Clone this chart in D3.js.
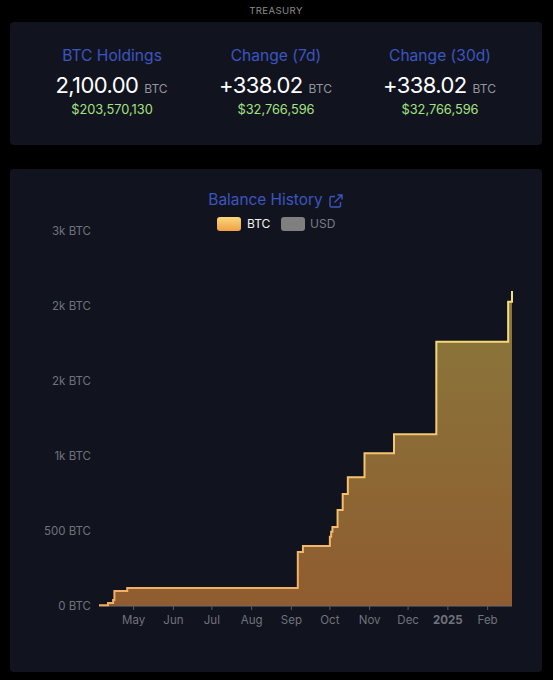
<!DOCTYPE html>
<html>
<head>
<meta charset="utf-8">
<style>
html, body { margin: 0; padding: 0; background: #000; }
svg { display: block; font-family: Inter, "Liberation Sans", sans-serif; }
</style>
</head>
<body>
<script src="https://cdn.jsdelivr.net/npm/d3@7"></script>
<script>
const w = 553
const h = 680

// step dates and balance after each step
const stepDates = ['2024-04-04', '2024-04-11', '2024-04-15', '2024-04-16', '2024-04-26', '2024-09-06', '2024-09-10',
	'2024-10-01', '2024-10-02', '2024-10-03', '2024-10-07', '2024-10-11', '2024-10-15', '2024-10-28',
	'2024-11-20', '2024-12-23', '2025-02-17', '2025-02-20', '2025-02-20']
const balances = [5, 20, 40, 100, 120, 360, 400, 462, 495, 527, 640, 747, 858, 1018, 1145, 1762, 2028, 2028, 2100]

const tickDates = ['2024-05-01', '2024-06-01', '2024-07-01', '2024-08-01', '2024-09-01', '2024-10-01', '2024-11-01', '2024-12-01', '2025-01-01', '2025-02-01']
const tickLabels = ['May', 'Jun', 'Jul', 'Aug', 'Sep', 'Oct', 'Nov', 'Dec', '2025', 'Feb']
const yTicks = [0, 500, 1000, 1500, 2000, 2500]
const yLabels = ['0 BTC', '500 BTC', '1k BTC', '2k BTC', '2k BTC', '3k BTC']

const statTitles = ['BTC Holdings', 'Change (7d)', 'Change (30d)']
const statValues = ['2,100.00', '+338.02', '+338.02']
const statUsd = ['$203,570,130', '$32,766,596', '$32,766,596']
const statX = [112, 276, 440]

const parse = d3.utcParse('%Y-%m-%d')
const dataset = stepDates.map((d, i) => [parse(d), balances[i]])

const svg = d3.select('body').append('svg').attr('width', w).attr('height', h)

const defs = svg.append('defs')
const fillGrad = defs.append('linearGradient').attr('id', 'areaFill')
	.attr('gradientUnits', 'userSpaceOnUse').attr('x1', 0).attr('x2', 0).attr('y1', 292).attr('y2', 606)
fillGrad.append('stop').attr('offset', 0).attr('stop-color', '#89783b')
fillGrad.append('stop').attr('offset', 1).attr('stop-color', '#8f5c30')
const lineGrad = defs.append('linearGradient').attr('id', 'lineStroke')
	.attr('gradientUnits', 'userSpaceOnUse').attr('x1', 0).attr('x2', 0).attr('y1', 292).attr('y2', 606)
lineGrad.append('stop').attr('offset', 0).attr('stop-color', '#f6e07c')
lineGrad.append('stop').attr('offset', 1).attr('stop-color', '#f3ad62')
const swatchGrad = defs.append('linearGradient').attr('id', 'swatch').attr('x1', 0).attr('x2', 0).attr('y1', 0).attr('y2', 1)
swatchGrad.append('stop').attr('offset', 0).attr('stop-color', '#fbd77c')
swatchGrad.append('stop').attr('offset', 1).attr('stop-color', '#f0a044')

svg.append('text').attr('x', 276).attr('y', 14).attr('text-anchor', 'middle')
	.attr('font-size', 9.6).attr('letter-spacing', 0.4).attr('fill', '#8b8b8b').text('TREASURY')

// cards
svg.append('rect').attr('x', 10).attr('y', 22).attr('width', 532).attr('height', 123).attr('rx', 4).attr('fill', '#11141f')
svg.append('rect').attr('x', 10).attr('y', 169).attr('width', 532).attr('height', 503).attr('rx', 4).attr('fill', '#11141f')

// stats
statTitles.forEach((t, i) => {
	svg.append('text').attr('x', statX[i]).attr('y', 60.5).attr('text-anchor', 'middle')
		.attr('font-size', 15.6).attr('fill', '#3c55c0').text(t)
	const val = svg.append('text').attr('x', statX[i] - 0.5).attr('y', 93).attr('text-anchor', 'middle').attr('fill', '#fff')
	val.append('tspan').attr('font-size', 22).attr('letter-spacing', -0.6).text(statValues[i])
	val.append('tspan').attr('font-size', 12).attr('dx', 6).attr('fill', '#94969c').text('BTC')
	svg.append('text').attr('x', statX[i]).attr('y', 114).attr('text-anchor', 'middle')
		.attr('font-size', 12.8).attr('fill', '#a6e283').text(statUsd[i])
})

// title
svg.append('text').attr('x', 265.5).attr('y', 205).attr('text-anchor', 'middle')
	.attr('font-size', 15.4).attr('fill', '#3c55c0').text('Balance History')
const icon = svg.append('g').attr('transform', 'translate(329,194)')
	.attr('fill', 'none').attr('stroke', '#3c55c0').attr('stroke-width', 1.4)
icon.append('path').attr('d', 'M6 2.5H2.5a1.5 1.5 0 0 0-1.5 1.5v7.5a1.5 1.5 0 0 0 1.5 1.5H10a1.5 1.5 0 0 0 1.5-1.5V8')
icon.append('path').attr('d', 'M5.5 8.5L13 1M8.5 1H13V5.5')

// legend
svg.append('rect').attr('x', 217).attr('y', 217).attr('width', 24).attr('height', 14).attr('rx', 3).attr('fill', 'url(#swatch)')
svg.append('text').attr('x', 247).attr('y', 228).attr('font-size', 12).attr('fill', '#f2f2f2').text('BTC')
svg.append('rect').attr('x', 281).attr('y', 217).attr('width', 24).attr('height', 14).attr('rx', 3).attr('fill', '#7f7f7f')
svg.append('text').attr('x', 310).attr('y', 228).attr('font-size', 12).attr('fill', '#7a7c84').text('USD')

const xScale = d3.scaleUtc()
	.domain([parse('2024-04-04'), parse('2025-02-20')])
	.range([99, 512])
const yScale = d3.scaleLinear()
	.domain([0, 2500])
	.range([606, 231])

const area = d3.area()
	.x(d => xScale(d[0]))
	.y0(yScale(0))
	.y1(d => yScale(d[1]))
	.curve(d3.curveStepAfter)
const line = d3.line()
	.x(d => xScale(d[0]))
	.y(d => yScale(d[1]))
	.curve(d3.curveStepAfter)

svg.append('path').datum(dataset).attr('d', area).attr('fill', 'url(#areaFill)')

// axes
const xAxis = d3.axisBottom(xScale)
	.tickValues(tickDates.map(parse))
	.tickSizeInner(4)
	.tickSizeOuter(0)
	.tickPadding(6)
	.offset(0)
	.tickFormat((d, i) => tickLabels[i])
const yAxis = d3.axisLeft(yScale)
	.tickValues(yTicks)
	.tickSize(0)
	.tickPadding(8)
	.offset(0)
	.tickFormat((d, i) => yLabels[i])

const gx = svg.append('g').attr('transform', `translate(0,${yScale(0)})`).call(xAxis)
gx.select('.domain').attr('stroke', '#6a6c72')
gx.selectAll('.tick line').attr('stroke', '#5a5c64')
gx.selectAll('.tick text').attr('font-size', 11.5).attr('font-family', 'Inter, sans-serif').attr('fill', '#70727b')
	.attr('font-weight', (d, i) => tickLabels[i] === '2025' ? 700 : 400)

const gy = svg.append('g').attr('transform', 'translate(99,0.5)').call(yAxis)
gy.select('.domain').remove()
gy.selectAll('.tick text').attr('font-size', 11.5).attr('font-family', 'Inter, sans-serif').attr('fill', '#70727b')

svg.append('path').datum(dataset).attr('d', line)
	.attr('fill', 'none').attr('stroke', 'url(#lineStroke)').attr('stroke-width', 2)
</script>
</body>
</html>
